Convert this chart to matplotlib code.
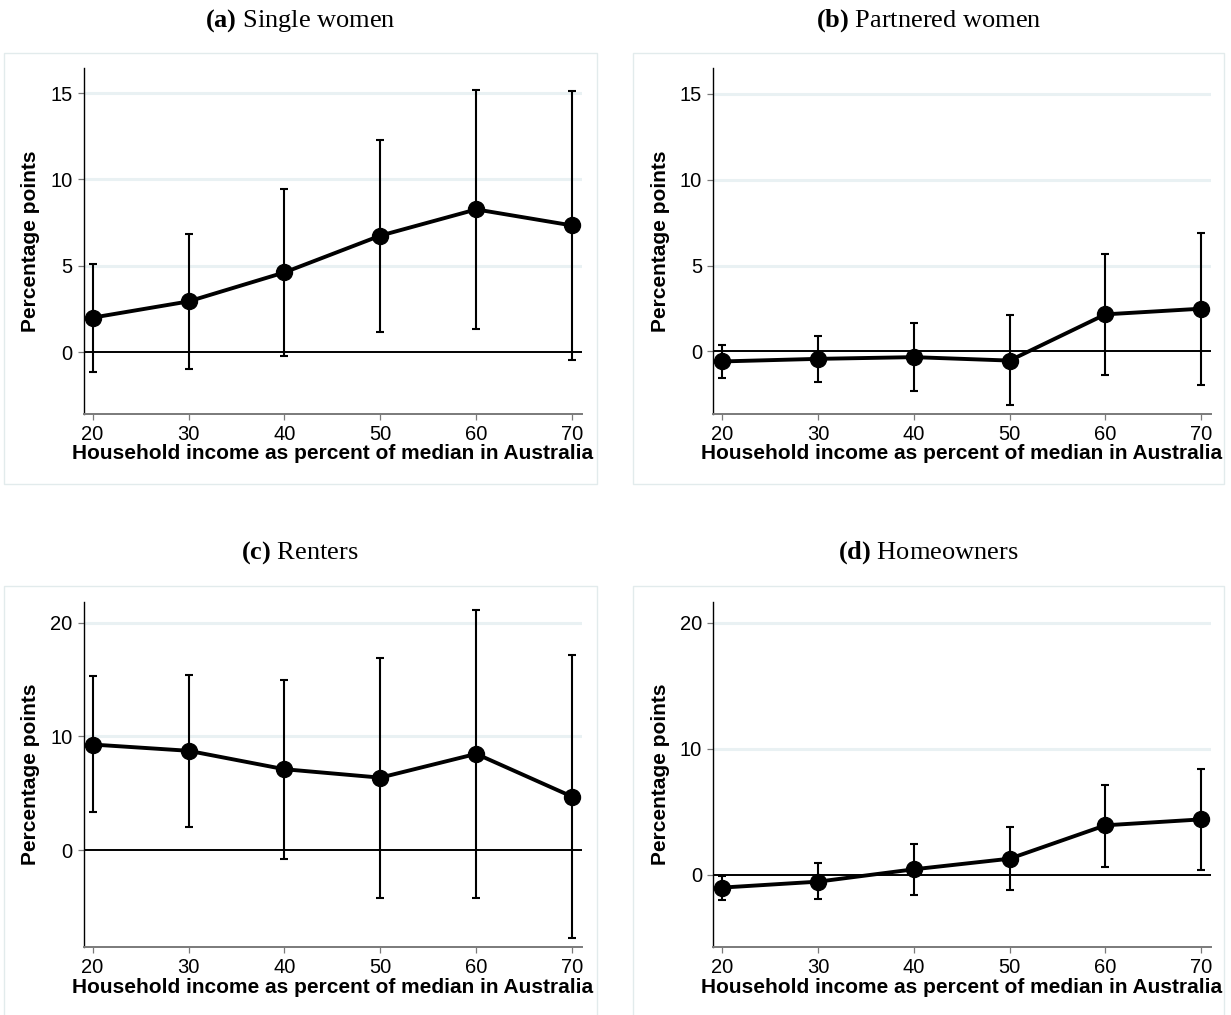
import matplotlib
matplotlib.use("Agg")
import matplotlib.pyplot as plt
from matplotlib.patches import Rectangle

plt.rcParams["font.family"] = ["Liberation Sans", "DejaVu Sans"]
plt.rcParams["mathtext.fontset"] = "custom"
plt.rcParams["mathtext.rm"] = "Liberation Serif"
plt.rcParams["mathtext.bf"] = "Liberation Serif:bold"

income = [20, 30, 40, 50, 60, 70]

single_est = [1.99, 2.93, 4.61, 6.74, 8.26, 7.33]
single_lo = [-1.14, -0.99, -0.23, 1.18, 1.34, -0.47]
single_hi = [5.10, 6.84, 9.44, 12.30, 15.20, 15.10]

partnered_est = [-0.58, -0.43, -0.33, -0.53, 2.16, 2.49]
partnered_lo = [-1.54, -1.79, -2.30, -3.11, -1.38, -1.95]
partnered_hi = [0.39, 0.88, 1.63, 2.12, 5.66, 6.87]

renters_est = [9.29, 8.74, 7.12, 6.38, 8.47, 4.71]
renters_lo = [3.32, 2.06, -0.74, -4.21, -4.21, -7.74]
renters_hi = [15.35, 15.41, 15.00, 16.90, 21.10, 17.20]

owners_est = [-1.00, -0.53, 0.45, 1.29, 3.94, 4.41]
owners_lo = [-1.98, -1.88, -1.61, -1.16, 0.61, 0.40]
owners_hi = [-0.08, 0.98, 2.48, 3.78, 7.16, 8.40]

W, H = 1231, 1015
GRID = "#e9f1f3"
FRAME = "#e2ebec"


def px_box(left, top, right, bottom):
    # pixel box (from top-left) -> figure fraction [l, b, w, h]
    return [left / W, 1 - bottom / H, (right - left) / W, (bottom - top) / H]


panels = [
    ("a", "Single women", single_est, single_lo, single_hi, [0, 5, 10, 15], (-3.59, 16.45),
     (83.5, 68, 581.7, 414), (3.5, 52.7, 596.7, 484), 21),
    ("b", "Partnered women", partnered_est, partnered_lo, partnered_hi, [0, 5, 10, 15], (-3.64, 16.5),
     (713.3, 68, 1210.7, 414), (633.3, 52.7, 1223.5, 484), 21),
    ("c", "Renters", renters_est, renters_lo, renters_hi, [0, 10, 20], (-8.53, 21.86),
     (83.5, 601.5, 581.7, 947.3), (3.5, 586, 596.7, 1017), 553),
    ("d", "Homeowners", owners_est, owners_lo, owners_hi, [0, 10, 20], (-5.74, 21.7),
     (713.3, 601.5, 1210.7, 947.3), (633.3, 586, 1223.5, 1017), 553),
]

fig = plt.figure(figsize=(W / 100, H / 100), dpi=100)

for tag, name, est, lo, hi, yticks, ylim, box, frame, title_y in panels:
    fl, ft, fr, fb = frame
    fig.patches.append(Rectangle((fl / W, 1 - fb / H), (fr - fl) / W, (fb - ft) / H,
                                 transform=fig.transFigure, fill=False,
                                 edgecolor=FRAME, linewidth=1.0))
    fig.text((fl + fr) / 2 / W, 1 - title_y / H, r"$\mathbf{(" + tag + ")}$ " + name,
             ha="center", va="center", fontsize=19, family="Liberation Serif")

    ax = fig.add_axes(px_box(*box))
    ax.set_xlim(19.05, 71.0)
    ax.set_ylim(*ylim)
    ax.set_xticks(income)
    ax.set_yticks(yticks)

    for t in yticks:
        if t != 0:
            ax.axhline(t, color=GRID, linewidth=2.2, zorder=0)
    ax.axhline(0, color="black", linewidth=1.4, zorder=1)

    yerr = [[e - l for e, l in zip(est, lo)], [h - e for e, h in zip(est, hi)]]
    ax.errorbar(income, est, yerr=yerr, fmt="none", ecolor="black",
                elinewidth=1.5, capsize=3.0, capthick=1.5, zorder=2)
    ax.plot(income, est, color="black", linewidth=2.8, marker="o",
            markersize=11.5, zorder=3)

    for side in ("top", "right"):
        ax.spines[side].set_visible(False)
    ax.spines["left"].set_color("black")
    ax.spines["left"].set_linewidth(1.0)
    ax.spines["bottom"].set_color("#7a7a7a")
    ax.spines["bottom"].set_linewidth(1.4)
    ax.tick_params(axis="both", length=4, width=0.9, color="#7a7a7a",
                   labelsize=14.5, pad=4)

    ax.set_ylabel("Percentage points", fontsize=15, fontweight="bold")
    ax.yaxis.set_label_coords(-0.088, 0.5)
    ax.set_xlabel("Household income as percent of median in Australia",
                  fontsize=15, fontweight="bold")
    ax.xaxis.set_label_coords(0.5, -0.088)

fig.savefig("out.png", dpi=100)
